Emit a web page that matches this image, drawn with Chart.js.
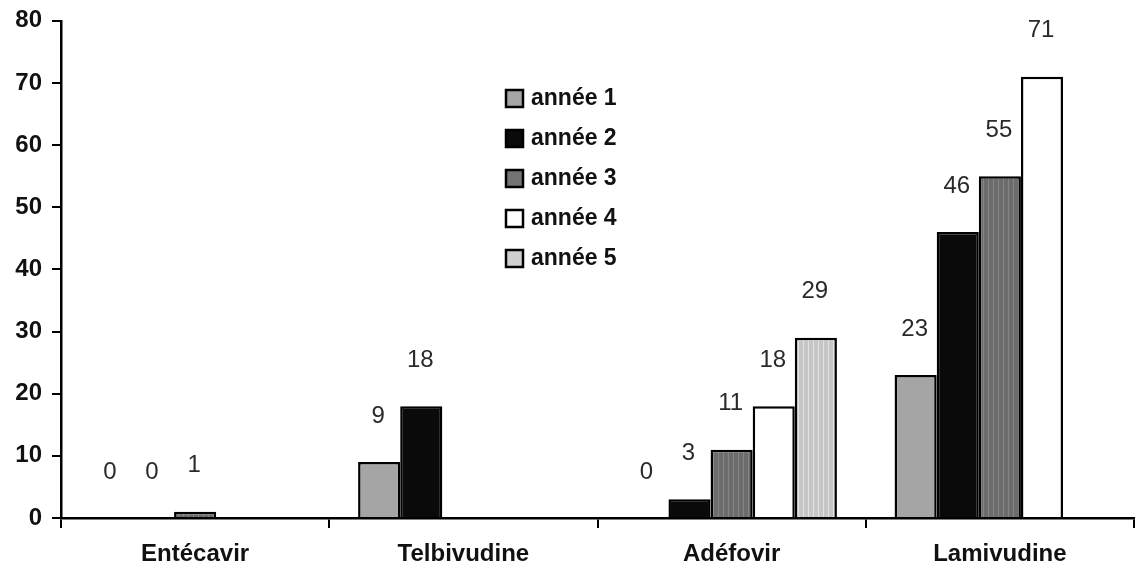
<!DOCTYPE html>
<html>
<head>
<meta charset="utf-8">
<script src="https://cdn.jsdelivr.net/npm/chart.js@4"></script>
<style>
  html, body { margin: 0; padding: 0; background: #fff; }
  #wrap { width: 1143px; height: 572px; }
</style>
</head>
<body>
<div id="wrap"><canvas id="resistChart"></canvas></div>
<script>
const categories = ['Entécavir', 'Telbivudine', 'Adéfovir', 'Lamivudine'];
const seriesNames = ['année 1', 'année 2', 'année 3', 'année 4', 'année 5'];
const annee1 = [0, 9, 0, 23];
const annee2 = [0, 18, 3, 46];
const annee3 = [1, null, 11, 55];
const annee4 = [null, null, 18, 71];
const annee5 = [null, null, 29, null];
const yTicks = [0, 10, 20, 30, 40, 50, 60, 70, 80];

// vertical stripe fill like the scanned figure
function stripes(base, line) {
  const c = document.createElement('canvas');
  c.width = 5; c.height = 2;
  const g = c.getContext('2d');
  g.fillStyle = base; g.fillRect(0, 0, 5, 2);
  g.fillStyle = line; g.fillRect(3, 0, 1, 2);
  return g.createPattern(c, 'repeat');
}

const fills = ['#a5a5a5', '#0a0a0a', stripes('#6c6c6c', '#858585'), '#ffffff', stripes('#c6c6c6', '#e2e2e2')];
const legendSwatch = ['#a5a5a5', '#0a0a0a', '#747474', '#ffffff', '#cfcfcf'];
const values = [annee1, annee2, annee3, annee4, annee5];

const valueLabels = {
  id: 'valueLabels',
  afterDatasetsDraw(chart) {
    const ctx = chart.ctx;
    const y = chart.scales.y;
    ctx.save();
    ctx.font = '24px "Liberation Sans", Arial, sans-serif';
    ctx.fillStyle = '#2a2a2a';
    ctx.textAlign = 'center';
    ctx.textBaseline = 'middle';
    chart.data.datasets.forEach((ds, i) => {
      chart.getDatasetMeta(i).data.forEach((bar, j) => {
        const v = ds.data[j];
        if (v === null) return;
        ctx.fillText(String(v), bar.x - 1, y.getPixelForValue(v) - 46);
      });
    });
    ctx.restore();
  }
};

const boxLegend = {
  id: 'boxLegend',
  afterDraw(chart) {
    const ctx = chart.ctx;
    ctx.save();
    ctx.font = 'bold 23px "Liberation Sans", Arial, sans-serif';
    ctx.textBaseline = 'middle';
    ctx.textAlign = 'left';
    seriesNames.forEach((name, i) => {
      const cy = 98 + i * 40;
      ctx.fillStyle = legendSwatch[i];
      ctx.fillRect(506, cy - 8, 17, 17);
      ctx.strokeStyle = '#000';
      ctx.lineWidth = 2.5;
      ctx.strokeRect(506, cy - 8, 17, 17);
      ctx.fillStyle = '#111';
      ctx.fillText(name, 531, cy + 1);
    });
    ctx.restore();
  }
};

const data = {
  labels: categories,
  datasets: seriesNames.map((name, i) => ({
    label: name,
    data: values[i],
    backgroundColor: fills[i],
    borderColor: '#000',
    borderWidth: 2.5,
    categoryPercentage: 0.785,
    barPercentage: 1,
    skipNull: false
  }))
};

const config = {
  type: 'bar',
  data: data,
  options: {
    responsive: true,
    maintainAspectRatio: false,
    animation: false,
    layout: { padding: { top: 20, right: 9, left: 0, bottom: 0 } },
    plugins: {
      legend: { display: false },
      tooltip: { enabled: false }
    },
    scales: {
      x: {
        grid: { offset: true, drawOnChartArea: false, color: '#000', lineWidth: 2, tickLength: 10 },
        border: { color: '#000', width: 2.5 },
        ticks: {
          color: '#111',
          font: { family: '"Liberation Sans", Arial, sans-serif', size: 24, weight: 'bold' },
          padding: 12
        },
        afterFit(scale) { scale.height = 54; }
      },
      y: {
        min: 0,
        max: 80,
        afterBuildTicks(scale) { scale.ticks = yTicks.map(v => ({ value: v })); },
        grid: { drawOnChartArea: false, color: '#000', lineWidth: 2, tickLength: 9 },
        border: { color: '#000', width: 2.5 },
        ticks: {
          color: '#111',
          font: { family: '"Liberation Sans", Arial, sans-serif', size: 24, weight: 'bold', lineHeight: 0.9 },
          padding: 10
        },
        afterFit(scale) { scale.width = 61; }
      }
    }
  },
  plugins: [valueLabels, boxLegend]
};

const resistChart = new Chart(document.getElementById('resistChart'), config);
</script>
</body>
</html>
